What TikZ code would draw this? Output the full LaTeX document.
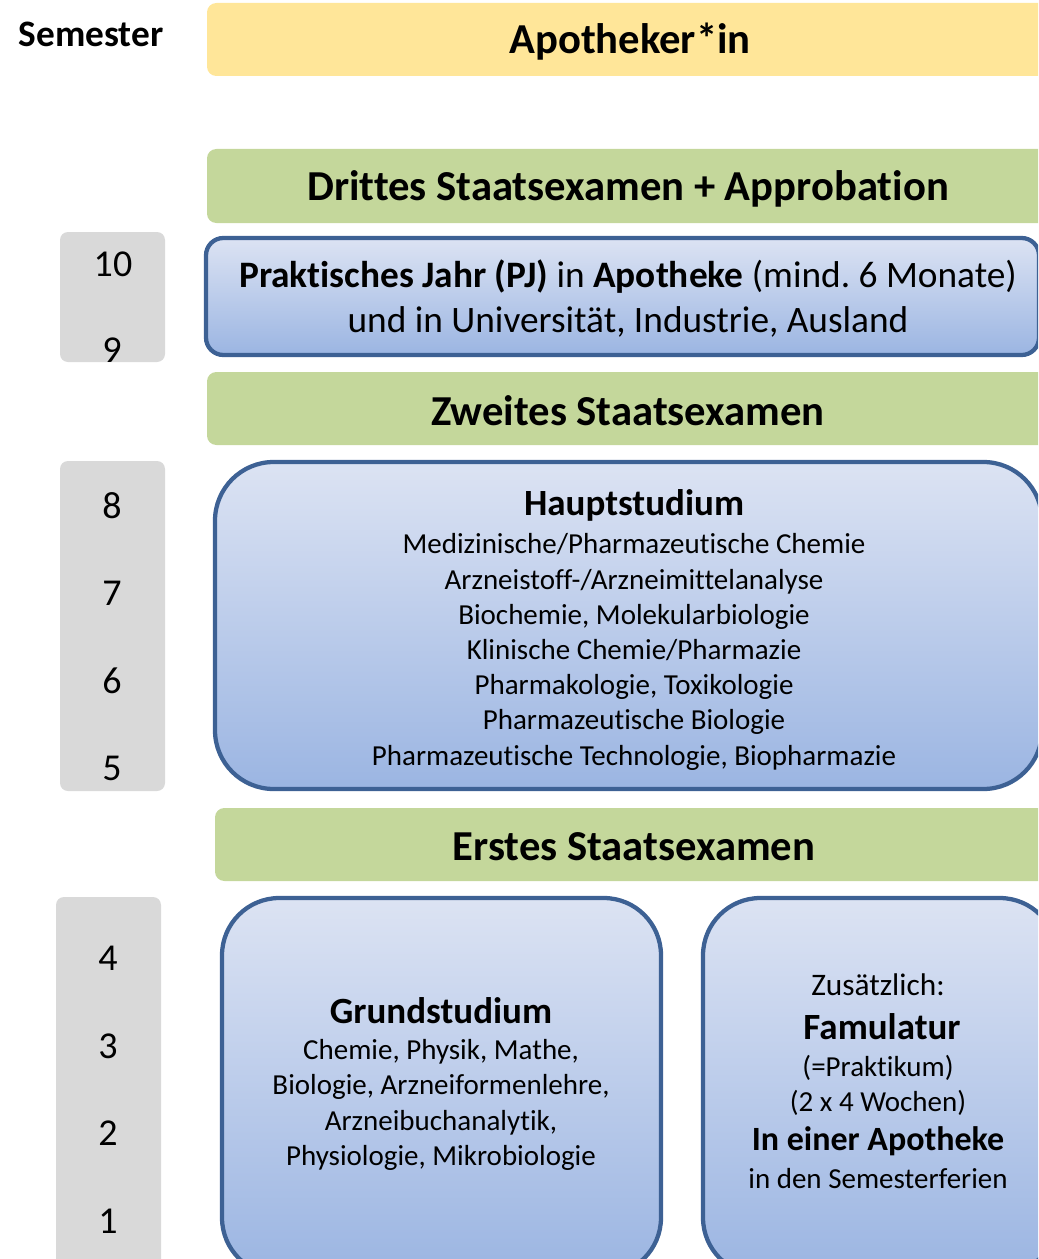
\documentclass[tikz,border=0pt]{standalone}
\usepackage{fontspec}
\setmainfont{Carlito}[Ligatures={NoCommon}]
\definecolor{yel}{HTML}{FFE699}
\definecolor{grn}{HTML}{C4D79B}
\definecolor{graybg}{HTML}{D9D9D9}
\definecolor{bluetop}{HTML}{DCE3F3}
\definecolor{bluebot}{HTML}{9BB5E2}
\definecolor{bord}{HTML}{3D6194}
\begin{document}
\frenchspacing
\begin{tikzpicture}[x=0.75pt,y=-0.75pt]
\tikzset{
  band/.style={fill=#1, rounded corners=7pt},
  graybox/.style={fill=graybg, rounded corners=6pt},
  bluebox/.style={draw=bord, line width=3.2pt, top color=bluetop, bottom color=bluebot},
  headtxt/.style={font=\bfseries\fontsize{32}{36}\selectfont, inner sep=0pt},
  numtxt/.style={font=\fontsize{28.5}{30}\selectfont, inner sep=0pt},
  semtxt/.style={font=\bfseries\fontsize{28}{30}\selectfont, inner sep=0pt},
  pjtxt/.style={font=\fontsize{28}{33.75}\selectfont, align=center, inner sep=0pt},
  titletxt/.style={font=\bfseries\fontsize{27.75}{32}\selectfont, inner sep=0pt},
  listtxt/.style={font=\fontsize{21.75}{26.4}\selectfont, align=center, inner sep=0pt},
}
\useasboundingbox (0,0) rectangle (1038,1259);
\clip (0,0) rectangle (1038,1259);
% bands
\path[band=yel] (207,3) rectangle (1070,76);
\path[band=grn] (207,149) rectangle (1070,223);
\path[band=grn] (207,372) rectangle (1070,445);
\path[band=grn] (215,808) rectangle (1070,881);
% semester boxes
\path[graybox] (60,232) rectangle (165,362);
\path[graybox] (60,461) rectangle (165,791);
\path[graybox] (56,897) rectangle (161,1280);
% blue boxes
\path[bluebox, rounded corners=13pt] (206,238) rectangle (1039,355);
\path[bluebox, rounded corners=44pt] (215,462) rectangle (1042,789);
\path[bluebox, rounded corners=43pt] (222,898) rectangle (661,1275);
\path[bluebox, rounded corners=43pt] (703,898) rectangle (1057,1275);
% texts
\node[semtxt] (sem) at (91,34) {Semester};
\node[headtxt] (apo) at (630,42) {Apotheker*in};
\node[headtxt] (drei) at (628,189) {Drittes Staatsexamen + Approbation};
\node[pjtxt] (pj) at (628,299) {\textbf{Praktisches Jahr (PJ)} in \textbf{Apotheke} (mind. 6 Monate)\\und in Universität, Industrie, Ausland};
\node[headtxt] (zwei) at (628,411) {Zweites Staatsexamen};
\node[titletxt] (haupt) at (634,505) {Hauptstudium};
\node[listtxt] (hlist) at (634,652) {Medizinische/Pharmazeutische Chemie\\Arzneistoff-/Arzneimittelanalyse\\Biochemie, Molekularbiologie\\Klinische Chemie/Pharmazie\\Pharmakologie, Toxikologie\\Pharmazeutische Biologie\\Pharmazeutische Technologie, Biopharmazie};
\node[headtxt] (erst) at (634,847) {Erstes Staatsexamen};
\node[titletxt] (grund) at (441,1011) {Grundstudium};
\node[listtxt] (glist) at (441,1105) {Chemie, Physik, Mathe,\\Biologie, Arzneiformenlehre,\\Arzneibuchanalytik,\\Physiologie, Mikrobiologie};
\node[listtxt, font=\fontsize{23.5}{28}\selectfont] (zus) at (878,985) {Zusätzlich:};
\node[titletxt] (fam) at (882,1027) {Famulatur};
\node[listtxt] (prak) at (878,1085) {(=Praktikum)\\(2 x 4 Wochen)};
\node[font=\bfseries\fontsize{25.5}{30}\selectfont, inner sep=0pt] (inapo) at (878,1141) {In einer Apotheke};
\node[listtxt] (ferien) at (878,1179) {in den Semesterferien};
% semester numbers
\node[numtxt] (s10) at (113,264) {10};
\node[numtxt] (s9) at (112,350) {9};
\node[numtxt] (s8) at (112,506) {8};
\node[numtxt] (s7) at (112,593) {7};
\node[numtxt] (s6) at (112,681) {6};
\node[numtxt] (s5) at (112,768) {5};
\node[numtxt] (s4) at (108,958) {4};
\node[numtxt] (s3) at (108,1046) {3};
\node[numtxt] (s2) at (108,1133) {2};
\node[numtxt] (s1) at (108,1221) {1};
\end{tikzpicture}
\end{document}
